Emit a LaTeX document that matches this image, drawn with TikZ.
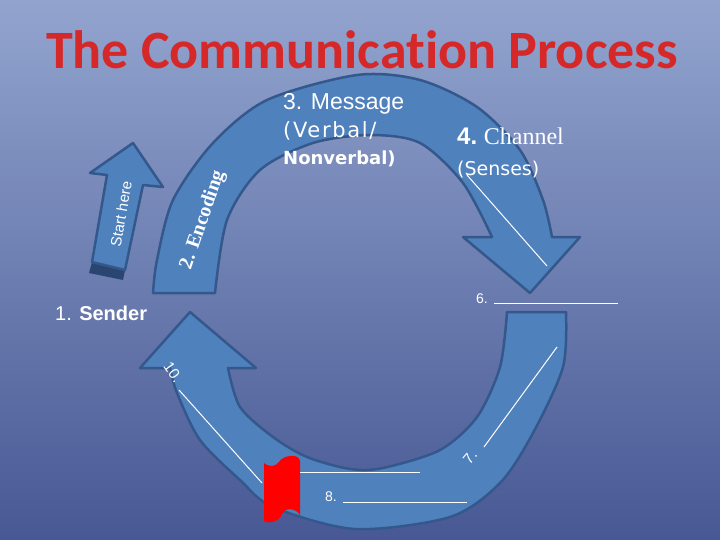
\documentclass[tikz,border=0pt]{standalone}
\usepackage{fontspec}
\setmainfont{Liberation Sans}
\newfontfamily\titlefont[Ligatures={NoCommon}]{Carlito}
\newfontfamily\romanfont{Liberation Serif}
\newfontfamily\roundfont{DejaVu Sans}

\definecolor{bgtop}{RGB}{146,164,206}
\definecolor{bgbot}{RGB}{72,88,148}
\definecolor{arrowblue}{RGB}{79,129,189}
\definecolor{arrowedge}{RGB}{52,88,140}
\definecolor{titlered}{RGB}{214,40,40}

\tikzset{
  flowarrow/.style={fill=arrowblue, draw=arrowedge, line width=2.5pt, line join=round},
  blankline/.style={draw=white, line width=1pt},
  whitetext/.style={text=white, inner sep=0pt},
}

\begin{document}
\begin{tikzpicture}[x=1pt,y=-1pt]
    % Background
    \useasboundingbox (0,0) rectangle (720,540);
    \shade[top color=bgtop, bottom color=bgbot] (0,0) rectangle (720,540);

    % Title
    \node[text=titlered, inner sep=0pt] (title) at (362,50) {\titlefont\bfseries\fontsize{54}{54}\selectfont The Communication Process};

    % Start here arrow
    \fill[arrowedge!80!black] (92,262) -- (125,270) -- (123,280) -- (89,273) -- cycle;
    \draw[flowarrow] (92,262) -- (107,175) -- (90,173) -- (133,143) -- (163,187) -- (143,185) -- (125,270) -- cycle;
    \node[whitetext, rotate=80] (start) at (121,214) {\fontsize{15}{15}\selectfont Start here};

    % Top arrow: encoding, message, channel
    \draw[flowarrow] plot[smooth] coordinates {(153,293) (157,260) (173,200) (213,143) (267,100) (357,75) (420,80) (477,107) (520,150) (543,200) (552,237)}
        -- (580,237) -- (530,293) -- (463,237) -- (492,237)
        -- plot[smooth] coordinates {(492,237) (463,183) (420,143) (370,135) (313,143) (260,170) (227,220) (215,293)}
        -- cycle;

    % Bottom arrow: back to the sender
    \draw[flowarrow] plot[smooth] coordinates {(566,312) (563,367) (533,433) (500,483) (450,517) (355,529) (273,507) (240,480) (200,440) (177,393) (170,368)}
        -- (140,368) -- (190,312) -- (256,368) -- (228,368)
        -- plot[smooth] coordinates {(228,368) (240,407) (273,437) (307,457) (350,469) (383,468) (440,450) (477,417) (500,367) (507,312)}
        -- cycle;

    % Labels on the top arrow
    \node[whitetext, rotate=71] (encoding) at (203,220) {\romanfont\bfseries\fontsize{20}{20}\selectfont 2. Encoding};
    \node[whitetext, anchor=base west] (msgA) at (283,110) {\fontsize{23}{23}\selectfont 3. Message};
    \node[whitetext, anchor=base west] (msgB) at (283,138) {\roundfont\addfontfeature{LetterSpace=8}\fontsize{21}{21}\selectfont (Verbal/};
    \node[whitetext, anchor=base west] (msgC) at (283,165) {\roundfont\bfseries\fontsize{18}{18}\selectfont Nonverbal)};
    \node[whitetext, anchor=base west] (chanA) at (457,145) {\bfseries\fontsize{24}{24}\selectfont 4.\ \romanfont\mdseries Channel};
    \node[whitetext, anchor=base west] (chanB) at (457,176) {\roundfont\fontsize{19}{19}\selectfont (Senses)};
    \coordinate (chanfrom) at (467,175);
    \coordinate (chanto) at (547,266);
    \draw[blankline] (chanfrom) -- (chanto);

    % Fill-in blanks
    \node[whitetext, anchor=base west] (six) at (476,303) {\fontsize{14}{14}\selectfont 6.};
    \coordinate (sixA) at (494,303);
    \coordinate (sixB) at (618,303);
    \draw[blankline] (sixA) -- (sixB);

    \node[whitetext, anchor=base west] (sender) at (55,320) {\fontsize{20}{20}\selectfont 1. \bfseries Sender};

    \node[whitetext, rotate=50] (seven) at (470,457) {\fontsize{15}{15}\selectfont 7.};
    \coordinate (sevenA) at (484,447);
    \coordinate (sevenB) at (557,347);
    \draw[blankline] (sevenA) -- (sevenB);

    \node[whitetext, anchor=base west] (eight) at (325,501) {\fontsize{14}{14}\selectfont 8.};
    \coordinate (eightA) at (343,502);
    \coordinate (eightB) at (467,502);
    \draw[blankline] (eightA) -- (eightB);

    \node[whitetext, anchor=base west] (nine) at (279,477) {\fontsize{15}{15}\selectfont 9.};
    \coordinate (nineA) at (300,472);
    \coordinate (nineB) at (420,472);
    \draw[blankline] (nineA) -- (nineB);

    \node[whitetext, rotate=-55] (ten) at (173,372) {\fontsize{15}{15}\selectfont 10.};
    \coordinate (tenA) at (179,390);
    \coordinate (tenB) at (262,483);
    \draw[blankline] (tenA) -- (tenB);

    % Red banner
    \fill[red] (264,463) .. controls (270,468) and (276,466) .. (279,462)
        .. controls (283,455) and (299,453) .. (300,461) -- (300,515)
        .. controls (296,508) and (285,507) .. (282,514)
        .. controls (279,522) and (268,524) .. (264,521) -- cycle;
\end{tikzpicture}
\end{document}
